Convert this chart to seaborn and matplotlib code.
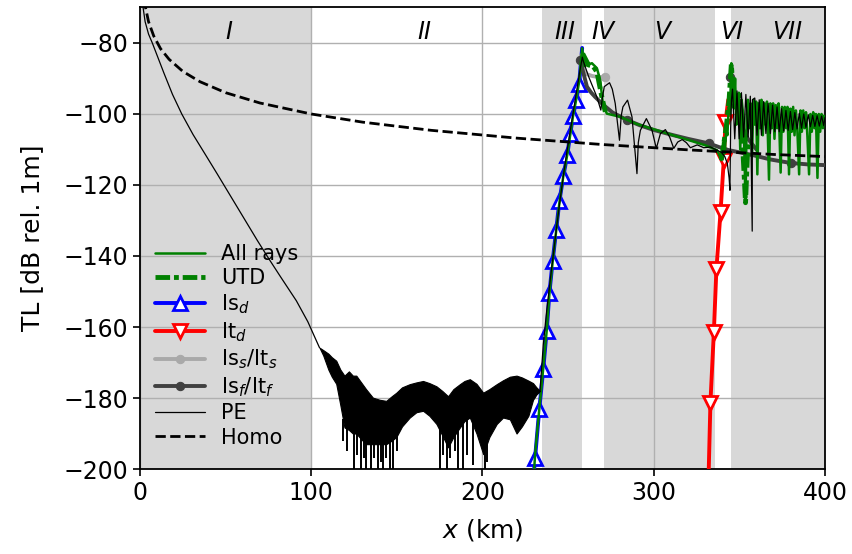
import seaborn as sns
import matplotlib.pyplot as plt

# ---- regions along the track (km) ----
span_gray = [(0, 100), (235, 258), (271, 336), (345, 400)]
region_names = ['I', 'II', 'III', 'IV', 'V', 'VI', 'VII']
region_mid = [52, 166, 248, 270.5, 305, 345.5, 378]

# ---- Homo ----
homo_x = [0.5, 1, 2, 3, 5, 8, 12, 17, 25, 35, 50, 70, 100, 130, 170, 220, 270, 320, 370, 400]
homo_tl = [-54, -60, -66, -69.5, -74, -78, -81.6, -84.6, -88, -90.9, -94, -96.9, -100,
           -102.3, -104.6, -106.8, -108.6, -110.1, -111.4, -112]

# ---- PE (thin black) ----
pe_x_a = [0.3, 1.0, 1.8, 3.0, 5.0, 7.2, 10, 14, 19, 24.4, 31, 38.4, 45, 52, 60, 68.5, 75, 82,
          91.3, 98, 104.8]
pe_tl_a = [-58, -66, -70, -74, -77.5, -80, -83.5, -88.5, -94.5, -100, -105.8, -111.6, -116.8,
           -122.4, -128.8, -135.6, -140.6, -145.8, -152.6, -158.5, -165.8]
# dense interference band (upper / lower envelope)
band_x = [104.8, 107, 110, 112, 114.6, 117, 119.4, 122, 124.3, 126.3, 129, 132, 136, 140, 143.8,
          147, 149.7, 153, 157.5, 161.4, 165.3, 169, 173.1, 176.5, 179.9, 183, 186.8, 189.5,
          192.6, 196.5, 200.4, 204, 208.3, 212, 216, 219.9, 223, 226.8, 229.5, 231.5, 233.6]
band_hi = [-165.8, -166.5, -167.5, -168.5, -169.5, -172, -173.7, -172.5, -173.7, -173.7, -175.5,
           -177.5, -179.9, -180.5, -180.8, -179.5, -178.5, -177, -176.1, -175.6, -175.2, -175.8,
           -176.7, -178, -179.5, -177.5, -176.1, -175.2, -174.7, -176, -178.5, -177.5, -176.1,
           -175, -174, -173.7, -174.2, -175.1, -175.8, -177, -178]
band_lo = [-165.8, -168, -172, -174, -176, -182, -188.3, -189, -190, -190, -191.5, -193, -193,
           -193, -193, -192, -191, -188, -185.5, -184, -183.6, -185, -187.3, -190.5, -193.9, -191,
           -188.3, -186.5, -185.5, -190, -195.8, -191, -187.3, -185.5, -186, -190, -188, -185,
           -180.5, -179, -178]
spike_x = [118.5, 121, 125, 127, 129.3, 131, 132.1, 134.8, 136.5, 138.9, 140.5, 141.9, 143.5,
           145.9, 147.7, 150, 174.9, 177, 179, 181, 184, 185.9, 188.6, 191, 194.6, 201.2, 202.4]
spike_tl = [-192, -195, -200, -196, -200, -197, -200, -200, -197, -200, -198, -200, -197, -200,
            -200, -195, -200, -196, -200, -197, -195, -200, -200, -196, -199, -200, -198]
pe_x_b = [233.6, 235.5, 237.5, 239.5, 241.5, 243.5, 245.5, 247.5, 249.5, 251.5, 253.5, 255.5,
          257.0, 258.3, 259.0, 262.0, 266.8, 269.1, 270.0, 271.1, 274.2, 275.8, 277.5, 280.0,
          281.0, 282.0, 284.7, 287.3, 290.2, 291.0, 292.2, 295.7, 299.0, 301.5, 303.9, 306.8,
          309.3, 311.7, 314.0, 316.6, 319.1, 321.4, 325.4, 329.2, 333.1, 337.0, 339.5, 341.5,
          343.0, 344.0, 344.5, 344.9, 345.4, 346.0]
pe_tl_b = [-178, -165, -155.4, -147, -139, -131, -123.5, -116.5, -110, -104, -98, -92, -87.5,
           -84, -85.3, -89.5, -95.2, -98.9, -95.5, -92.3, -91.2, -93, -97.0, -107.4, -100.5,
           -98.0, -96.1, -100.8, -116.8, -108, -104.6, -101.3, -104.6, -109.7, -105.5, -104.4,
           -106.5, -109.7, -107.9, -107.2, -108.1, -109.5, -108.7, -109.5, -109.3, -110.2,
           -110.8, -112, -114, -118, -121.5, -104, -96, -93]
pe_x_c = [347.3, 348.6, 349.9, 351.2, 352.5, 353.8, 355.1, 356.4, 357.5, 357.6, 359.0, 360.3,
          361.6, 362.9, 364.2, 365.5, 366.8, 368.1, 369.4, 370.7, 372.0, 373.3, 374.6, 375.9,
          377.2, 378.5, 379.8, 381.1, 382.4, 383.7, 385.0, 386.3, 387.6, 388.9, 390.2, 391.5,
          392.8, 394.1, 395.4, 396.7, 398.0, 399.3, 400.0]
pe_tl_c = [-107, -93.5, -107, -94, -106.5, -94.5, -106.5, -95, -133, -96, -95.5, -106, -96, -106,
           -96.5, -105.5, -97, -105.5, -97.5, -105, -98, -105, -98.5, -104.8, -99, -104.6, -99.3,
           -104.4, -99.6, -104.2, -99.8, -104, -100, -103.8, -100.2, -103.6, -100.4, -103.5,
           -100.5, -103.4, -100.6, -103.3, -101]

# ---- All rays (green) ----
ray_x = [230.2, 230.7, 233.2, 235.5, 237.5, 239.1, 241, 243, 244.9, 247.2, 249.5, 251.2, 252.9,
         254.7, 256.4, 258.2, 259.5, 261, 263.9, 266.8, 268.7, 270.3, 272.6, 280.4, 290, 300,
         310, 320, 330, 337, 339.5, 340.5, 341.5, 342.3, 343, 343.8, 344.5, 345.3, 346, 346.8,
         347.5, 348.3, 349, 349.7, 350.5, 351.3, 352, 352.8, 353.6, 354.3, 355, 355.8, 356.6,
         357.4, 358.2, 359.0, 359.8, 360.5, 361.3, 362.1, 362.9, 363.7, 364.5, 365.3, 366.1,
         367.3, 368.1, 368.9, 369.7, 370.5, 371.3, 372.1, 372.9, 374.1, 374.9, 375.7, 376.5,
         377.3, 378.1, 379.0, 379.8, 380.6, 381.4, 382.2, 383.0, 383.8, 384.9, 385.7, 386.5,
         387.3, 388.1, 388.9, 389.7, 390.7, 391.5, 392.3, 393.1, 393.9, 394.7, 395.6, 396.4,
         397.2, 398.0, 398.8, 399.6, 400.0]
ray_tl = [-200, -196, -183, -171.5, -161, -150.5, -141.5, -133, -125, -117.5, -111.5, -106,
          -100.5, -96, -91, -81.5, -86.5, -86.2, -85.7, -87.1, -90.4, -97, -99.9, -100.8, -102.8,
          -104.3, -105.8, -107.3, -108.8, -110.2, -113, -108, -111, -104, -106, -98, -100, -85.7,
          -93, -98, -90, -103, -95, -94, -110, -96, -99, -108, -125, -100, -96, -104, -97, -112,
          -96, -103, -96.5, -117, -97, -104, -96, -106, -97, -103, -96.5, -118.5, -97, -104, -97,
          -107, -97.5, -104, -97, -116.5, -98, -105, -98, -104, -98, -117, -98.5, -105, -98,
          -106, -99, -104, -117, -99, -105, -99, -104, -99.5, -106, -117, -100, -105, -99.5,
          -104, -100, -118, -100, -105, -100, -104, -100.5, -103]

# ---- UTD (two pieces) ----
utd1_x = [258.5, 261.9, 264.5, 266.8, 269.7, 271.7]
utd1_tl = [-83, -86.2, -86.5, -88.1, -95.2, -99.4]
utd2_x = [339.5, 341.0, 342.5, 344.0, 345.3, 347.0, 349.7, 351.5, 353.6, 355.0]
utd2_tl = [-113, -108, -103, -96, -86, -98, -94, -105, -125, -108]

# ---- Is_d (blue) / It_d (red) ----
isd_x = [230.2, 230.7, 233.2, 235.5, 237.5, 239.1, 241.0, 243.0, 244.9, 247.2, 249.5, 251.2,
         252.9, 254.7, 256.4, 258.2]
isd_tl = [-200, -196.9, -183, -171.8, -161, -150.3, -141.3, -132.8, -124.6, -117.5, -111.6,
          -105.7, -100.6, -96.1, -91.6, -81.4]
itd_x = [332.1, 333.1, 335.1, 336.6, 339.0, 340.9, 341.9, 343.5]
itd_tl = [-200.6, -181.3, -161.5, -143.6, -127.6, -113.0, -102.2, -96]

# ---- Is_s/It_s (light grey) and Is_f/It_f (dark grey) ----
iss_x = [257.5, 259.0, 261.0, 264.0, 268.0, 271.7]
iss_tl = [-83.5, -87.5, -88.8, -89.3, -89.6, -89.7]
isf_x = [257.0, 259.0, 261.0, 263.5, 265.8, 270.7, 276, 284.4, 292, 300, 310, 320, 332.2, 338,
         344, 350, 358, 368, 380, 390, 400]
isf_tl = [-84.8, -88.6, -92.3, -94, -95.2, -97.5, -99.6, -101.7, -103.2, -104.5, -105.8, -107,
          -108.3, -109.3, -110.2, -110.8, -111.6, -112.8, -113.8, -114.2, -114.4]
isf2_x = [344.8, 346, 348, 351, 355, 360]
isf2_tl = [-89.5, -93, -98, -103, -107, -110]

sns.set_style('ticks')
plt.rcParams['font.family'] = ['DejaVu Sans']
plt.rcParams['mathtext.fontset'] = 'dejavusans'
for key in ['text.color', 'axes.labelcolor', 'xtick.color', 'ytick.color', 'axes.edgecolor']:
  plt.rcParams[key] = 'black'

fig = plt.figure(figsize=(8.52, 5.54), dpi=100)
ax = fig.add_axes([0.1643, 0.1534, 0.804, 0.8331])

for a, b in span_gray:
  ax.axvspan(a, b, color='#d8d8d8', lw=0, zorder=0)

sns.lineplot(x=ray_x, y=ray_tl, ax=ax, color='green', lw=1.8, sort=False, estimator=None,
             label='All rays', zorder=4)
sns.lineplot(x=utd1_x, y=utd1_tl, ax=ax, color='green', lw=3.5, sort=False, estimator=None,
             linestyle=(0, (3, 0.8, 1, 0.8)), label='UTD', zorder=4)
sns.lineplot(x=utd2_x, y=utd2_tl, ax=ax, color='green', lw=3.5, sort=False, estimator=None,
             linestyle=(0, (3, 0.8, 1, 0.8)), zorder=4)
sns.lineplot(x=isd_x, y=isd_tl, ax=ax, color='blue', lw=2.8, sort=False, estimator=None,
             marker='^', markersize=10, markerfacecolor='white', markeredgecolor='blue',
             markeredgewidth=2, markevery=list(range(1, 15)), label='Is$_d$', zorder=3)
sns.lineplot(x=itd_x, y=itd_tl, ax=ax, color='red', lw=2.8, sort=False, estimator=None,
             marker='v', markersize=10, markerfacecolor='white', markeredgecolor='red',
             markeredgewidth=2, markevery=list(range(1, 7)), label='It$_d$', zorder=3)
sns.lineplot(x=iss_x, y=iss_tl, ax=ax, color='darkgray', lw=2.8, sort=False, estimator=None,
             marker='o', markersize=6, markeredgecolor='darkgray', markevery=[5],
             label='Is$_s$/It$_s$', zorder=3)
sns.lineplot(x=isf_x, y=isf_tl, ax=ax, color='#404040', lw=2.8, sort=False, estimator=None,
             marker='o', markersize=6, markeredgecolor='#404040', markevery=[0, 7, 12, 18],
             label='Is$_f$/It$_f$', zorder=3)
sns.lineplot(x=isf2_x, y=isf2_tl, ax=ax, color='#404040', lw=2.8, sort=False, estimator=None,
             marker='o', markersize=6, markeredgecolor='#404040', markevery=[0], zorder=3)

sns.lineplot(x=pe_x_a, y=pe_tl_a, ax=ax, color='black', lw=0.9, sort=False, estimator=None,
             label='PE', zorder=5)
sns.lineplot(x=pe_x_b + pe_x_c, y=pe_tl_b + pe_tl_c, ax=ax, color='black', lw=0.9, sort=False,
             estimator=None, zorder=5)
ax.fill_between(band_x, band_lo, band_hi, color='black', lw=0.8, zorder=5)
ax.vlines(spike_x, -186, spike_tl, color='black', lw=1.4, zorder=5)

sns.lineplot(x=homo_x, y=homo_tl, ax=ax, color='black', lw=2, linestyle='--', sort=False,
             estimator=None, label='Homo', zorder=6)

for name, xm in zip(region_names, region_mid):
  ax.text(xm, -77, name, fontsize=17, style='italic', ha='center', va='center')

ax.set_xlim(0, 400)
ax.set_ylim(-200, -70)
ax.set_xticks([0, 100, 200, 300, 400])
ax.set_yticks([-200, -180, -160, -140, -120, -100, -80])
ax.grid(True, color='#b0b0b0', lw=1.0)
ax.tick_params(labelsize=17, length=5, width=1.2)
for s in ax.spines.values():
  s.set_linewidth(1.3)
ax.set_xlabel('$x$ (km)', fontsize=18, labelpad=9)
ax.set_ylabel('TL [dB rel. 1m]', fontsize=18, labelpad=14)

ax.legend(loc='lower left', bbox_to_anchor=(0.0, 0.015), frameon=False, fontsize=15,
          handlelength=2.4, labelspacing=0.2, borderaxespad=0.3)

plt.savefig('out.png', dpi=100)
plt.close()
